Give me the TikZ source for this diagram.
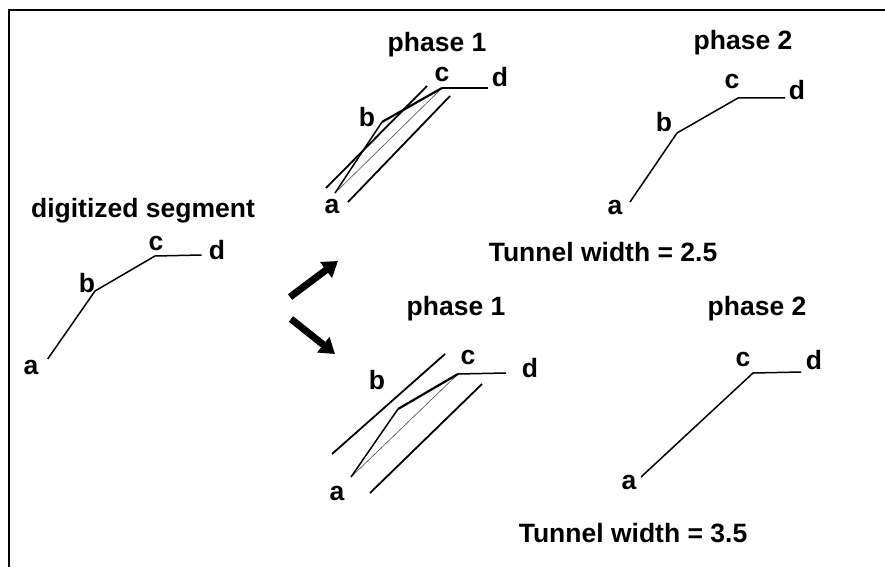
\documentclass[tikz,border=0pt]{standalone}
\usepackage{fontspec}
\setmainfont{Liberation Sans}
\usetikzlibrary{arrows.meta}

\begin{document}
\begin{tikzpicture}
    [x=1pt, y=-1pt,
    lbl/.style={inner sep=0pt, font=\fontsize{26.5}{30}\selectfont\bfseries},
    seg/.style={black, line width=1.5pt},
    thickseg/.style={black, line width=2.2pt},
    tunnel/.style={black, line width=1.8pt},
    chord/.style={black!70, line width=0.6pt},
    bigarrow/.style={black, line width=7pt, -{Triangle[length=15pt, width=19pt]}}]

    \useasboundingbox (0,0) rectangle (885,567);

    % frame (top and left only)
    \draw[line width=2.5pt] (9,567) -- (9,10) -- (885,10);

    % digitized segment
    \coordinate (sa) at (47.7,359);
    \coordinate (sb) at (95,291);
    \coordinate (sc) at (155,256);
    \coordinate (sd) at (201.7,255);
    \draw[seg] (sa) -- (sb) -- (sc) -- (sd);
    \node[lbl] (stitle) at (143,211) {digitized segment};
    \node[lbl] (sla) at (31,367) {a};
    \node[lbl] (slb) at (87,283) {b};
    \node[lbl] (slc) at (156,243) {c};
    \node[lbl] (sld) at (217,250) {d};

    % arrows
    \coordinate (up0) at (290,297);
    \coordinate (up1) at (338,261);
    \coordinate (dn0) at (291,319);
    \coordinate (dn1) at (335,354);
    \draw[bigarrow] (up0) -- (up1);
    \draw[bigarrow] (dn0) -- (dn1);

    % width 2.5, phase 1
    \coordinate (pa) at (335,193);
    \coordinate (pb) at (382,122);
    \coordinate (pc) at (442,88);
    \coordinate (pd) at (488,88);
    \coordinate (pt1) at (326,188);
    \coordinate (pt2) at (427,86);
    \coordinate (pt3) at (348,202);
    \coordinate (pt4) at (450,96);
    \draw[chord] (pa) -- (pc);
    \draw[seg] (pa) -- (pb);
    \draw[thickseg] (pb) -- (pc);
    \draw[seg] (pc) -- (pd);
    \draw[tunnel] (pt1) -- (pt2);
    \draw[tunnel] (pt3) -- (pt4);
    \node[lbl] (ptitle) at (437,45) {phase 1};
    \node[lbl] (pla) at (332,206) {a};
    \node[lbl] (plb) at (367,117) {b};
    \node[lbl] (plc) at (442,75) {c};
    \node[lbl] (pld) at (500,77) {d};

    % width 2.5, phase 2
    \coordinate (qa) at (630,202);
    \coordinate (qb) at (677,133);
    \coordinate (qc) at (738,98);
    \coordinate (qd) at (785,98);
    \draw[seg] (qa) -- (qb) -- (qc) -- (qd);
    \node[lbl] (qtitle) at (743,43) {phase 2};
    \node[lbl] (qla) at (615,207) {a};
    \node[lbl] (qlb) at (664,122) {b};
    \node[lbl] (qlc) at (732,82) {c};
    \node[lbl] (qld) at (797,90) {d};
    \node[lbl] (wone) at (603,252) {Tunnel width = 2.5};

    % width 3.5, phase 1
    \coordinate (ra) at (351,477);
    \coordinate (rb) at (398,409);
    \coordinate (rc) at (458,374);
    \coordinate (rd) at (506,373);
    \coordinate (rt1) at (332,454);
    \coordinate (rt2) at (445,354);
    \coordinate (rt3) at (370,493);
    \coordinate (rt4) at (482,384);
    \draw[chord] (ra) -- (rc);
    \draw[seg] (ra) -- (rb);
    \draw[thickseg] (rb) -- (rc);
    \draw[seg] (rc) -- (rd);
    \draw[tunnel] (rt1) -- (rt2);
    \draw[tunnel] (rt3) -- (rt4);
    \node[lbl] (rtitle) at (456,309) {phase 1};
    \node[lbl] (rla) at (337,493) {a};
    \node[lbl] (rlb) at (377,380) {b};
    \node[lbl] (rlc) at (468,357) {c};
    \node[lbl] (rld) at (530,368) {d};

    % width 3.5, phase 2
    \coordinate (ta) at (641,477);
    \coordinate (tc) at (753,373);
    \coordinate (td) at (801,372);
    \draw[seg] (ta) -- (tc) -- (td);
    \node[lbl] (ttitle) at (757,309) {phase 2};
    \node[lbl] (tla) at (629,482) {a};
    \node[lbl] (tlc) at (743,359) {c};
    \node[lbl] (tld) at (814,360) {d};
    \node[lbl] (wtwo) at (633,533) {Tunnel width = 3.5};

\end{tikzpicture}
\end{document}
